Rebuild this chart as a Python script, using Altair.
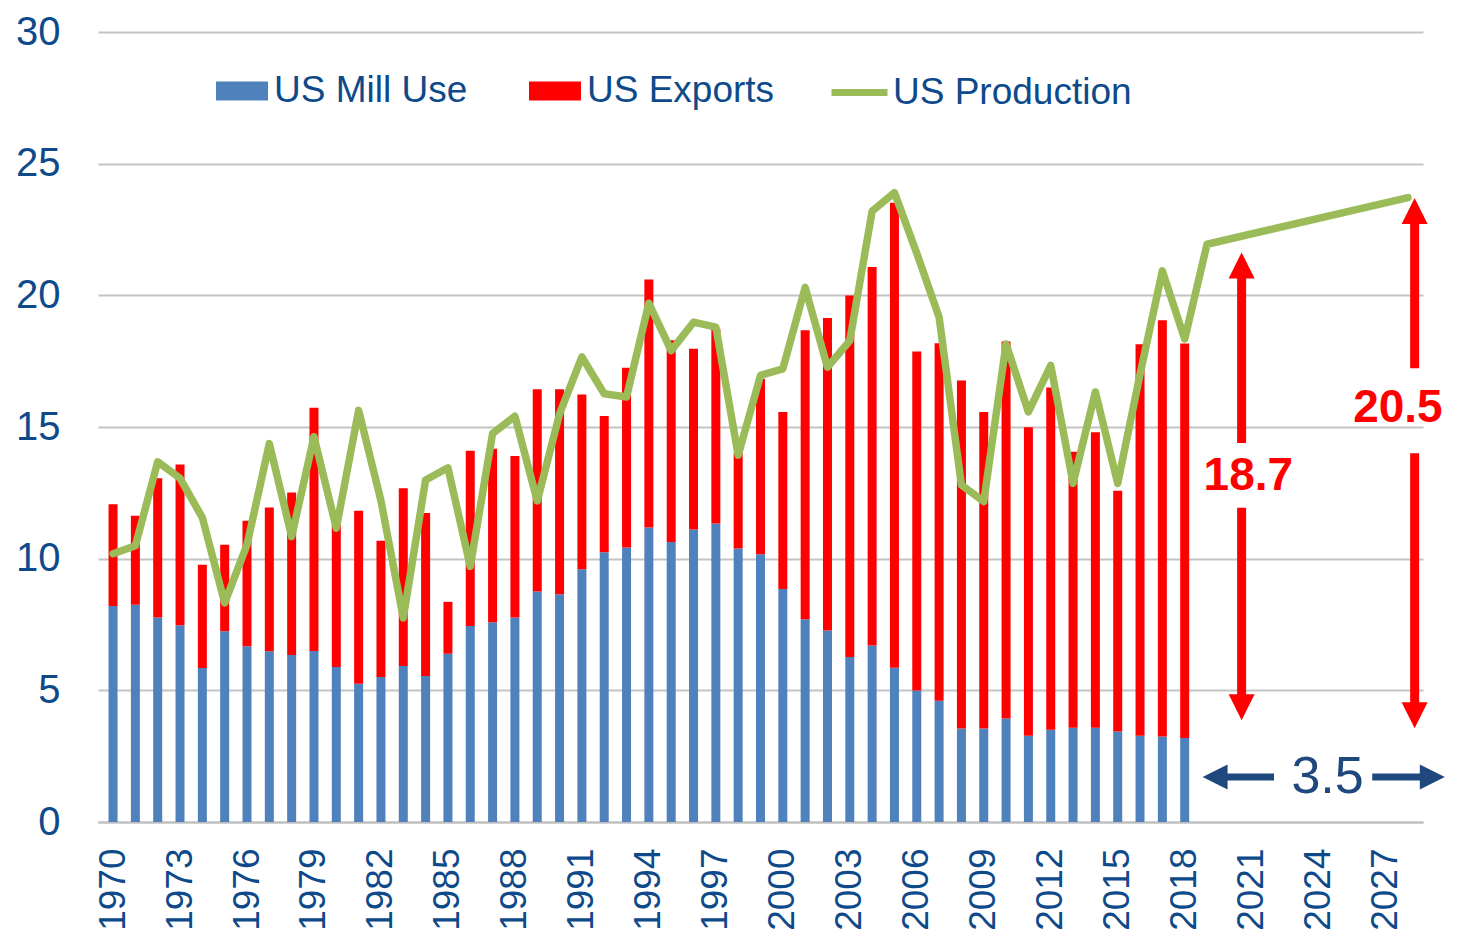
import altair as alt
import pandas as pd

years = list(range(1970, 2019))
mill_use = [8.2, 8.25, 7.77, 7.47, 5.85, 7.24, 6.67, 6.48, 6.34, 6.49,
            5.89, 5.25, 5.51, 5.92, 5.54, 6.39, 7.44, 7.59, 7.77, 8.75,
            8.65, 9.6, 10.24, 10.42, 11.18, 10.63, 11.11, 11.34, 10.39, 10.17,
            8.85, 7.7, 7.27, 6.27, 6.7, 5.86, 4.99, 4.6, 3.55, 3.55,
            3.93, 3.28, 3.5, 3.58, 3.58, 3.44, 3.28, 3.25, 3.19]
exports = [3.87, 3.38, 5.28, 6.11, 3.92, 3.29, 4.77, 5.46, 6.17, 9.24,
           5.41, 6.57, 5.17, 6.75, 6.19, 1.97, 6.66, 6.58, 6.13, 7.68,
           7.78, 6.63, 5.18, 6.83, 9.42, 7.66, 6.86, 7.38, 3.61, 6.66,
           6.72, 10.97, 11.87, 13.72, 14.38, 17.66, 12.88, 13.58, 13.22, 12.02,
           14.32, 11.71, 13.0, 10.48, 11.22, 9.14, 14.86, 15.8, 14.98]
prod_years = list(range(1970, 2020)) + [2028]
production = [10.19, 10.49, 13.68, 13.05, 11.56, 8.32, 10.53, 14.37, 10.84, 14.63,
              11.16, 15.63, 12.2, 7.75, 12.99, 13.45, 9.71, 14.75, 15.41, 12.19,
              15.5, 17.66, 16.26, 16.14, 19.7, 17.9, 18.98, 18.79, 13.93, 16.96,
              17.21, 20.3, 17.27, 18.28, 23.2, 23.9, 21.6, 19.17, 12.8, 12.17,
              18.15, 15.57, 17.34, 12.86, 16.33, 12.86, 17.0, 20.93, 18.34, 21.94,
              23.71]
x_tick_labels = list(range(1970, 2028, 3))
y_ticks = [0, 5, 10, 15, 20, 25, 30]

# annotation data (data units)
red_shaft_x = [2020.55, 2020.55, 2028.3, 2028.3]
red_shaft_y1 = [4.6, 14.39, 4.4, 17.23]
red_shaft_y2 = [11.93, 21.0, 14.0, 23.0]
up_tip_x = [2020.55, 2028.3]
up_tip_y = [21.63, 23.7]
down_tip_x = [2020.55, 2028.3]
down_tip_y = [3.86, 3.56]
red_text = ["18.7", "20.5"]
red_text_x = [2020.85, 2027.55]
red_text_y = [13.13, 15.71]
blue_shaft_x1 = [2019.4, 2026.4]
blue_shaft_x2 = [2022.0, 2029.1]
blue_y = 1.71
blue_left_tip = 2018.8
blue_right_tip = 2029.65
blue_text = "3.5"
blue_text_x = 2024.4

FONT = "Liberation Sans"
TXT = "#0E4A8A"
NAVY = "#1F497D"

bars_df = pd.DataFrame(
    [{"year": y, "series": "US Mill Use", "value": m, "ord": 0} for y, m in zip(years, mill_use)]
    + [{"year": y, "series": "US Exports", "value": e, "ord": 1} for y, e in zip(years, exports)]
)
prod_df = pd.DataFrame({"year": prod_years, "value": production, "series": "US Production"})

xscale = alt.Scale(domain=[1969.55, 2028.45], nice=False, zero=False)
yscale = alt.Scale(domain=[0, 30], nice=False)

x_axis = alt.Axis(values=x_tick_labels, format="d", labelAngle=270, labelAlign="right",
                  labelBaseline="middle", labelFontSize=37, labelColor=TXT, labelFont=FONT,
                  labelPadding=26, ticks=False, grid=False, domainColor="#BFBFBF",
                  domainWidth=2, title=None, labelOverlap=False, labelFlush=False)
y_axis = alt.Axis(values=y_ticks, labelFontSize=40, labelColor=TXT, labelFont=FONT,
                  labelPadding=38, ticks=False, domain=False, gridColor="#C4C4C4",
                  gridWidth=2, title=None)

bars = alt.Chart(bars_df).mark_bar(size=9).encode(
    x=alt.X("year:Q", scale=xscale, axis=x_axis),
    y=alt.Y("value:Q", stack="zero", scale=yscale, axis=y_axis),
    color=alt.Color("series:N",
                    scale=alt.Scale(domain=["US Mill Use", "US Exports"], range=["#4F81BD", "#FF0000"]),
                    legend=alt.Legend(orient="none", legendX=118, legendY=33, direction="horizontal",
                                      columns=2, title=None, symbolType="M-1,-0.365H1V0.365H-1Z",
                                      symbolSize=2704, symbolStrokeWidth=0, labelFontSize=37,
                                      labelColor=TXT, labelFont=FONT, labelOffset=6,
                                      columnPadding=61, padding=0, labelLimit=400)),
    order=alt.Order("ord:Q", sort="ascending"),
)

line = alt.Chart(prod_df).mark_line(strokeWidth=7.5, strokeJoin="round", strokeCap="round").encode(
    x=alt.X("year:Q", scale=xscale),
    y=alt.Y("value:Q", scale=yscale),
    stroke=alt.Stroke("series:N", scale=alt.Scale(domain=["US Production"], range=["#9BBB59"]),
                      legend=alt.Legend(orient="none", legendX=730, legendY=29, title=None,
                                        symbolType="stroke", symbolSize=3136, symbolStrokeWidth=7,
                                        labelFontSize=37, labelColor=TXT, labelFont=FONT,
                                        labelOffset=2, padding=0, labelLimit=400)),
)

shaft_df = pd.DataFrame({"x": red_shaft_x, "y1": red_shaft_y1, "y2": red_shaft_y2})
red_shafts = alt.Chart(shaft_df).mark_rule(color="#FF0000", strokeWidth=9).encode(
    x=alt.X("x:Q", scale=xscale), y=alt.Y("y1:Q", scale=yscale), y2="y2:Q")

up_df = pd.DataFrame({"x": up_tip_x, "y": up_tip_y})
up_heads = alt.Chart(up_df).mark_point(shape="M0,0L1,2L-1,2Z", filled=True, size=676,
                                       color="#FF0000", opacity=1, strokeWidth=0).encode(
    x=alt.X("x:Q", scale=xscale), y=alt.Y("y:Q", scale=yscale))
down_df = pd.DataFrame({"x": down_tip_x, "y": down_tip_y})
down_heads = alt.Chart(down_df).mark_point(shape="M0,0L1,-2L-1,-2Z", filled=True, size=676,
                                           color="#FF0000", opacity=1, strokeWidth=0).encode(
    x=alt.X("x:Q", scale=xscale), y=alt.Y("y:Q", scale=yscale))

rtext_df = pd.DataFrame({"t": red_text, "x": red_text_x, "y": red_text_y})
red_labels = alt.Chart(rtext_df).mark_text(font=FONT, fontSize=46, fontWeight="bold",
                                           color="#FF0000", align="center", baseline="middle").encode(
    x=alt.X("x:Q", scale=xscale), y=alt.Y("y:Q", scale=yscale), text="t:N")

bshaft_df = pd.DataFrame({"x1": blue_shaft_x1, "x2": blue_shaft_x2, "y": [blue_y] * 2})
blue_shafts = alt.Chart(bshaft_df).mark_rule(color=NAVY, strokeWidth=7).encode(
    x=alt.X("x1:Q", scale=xscale), x2="x2:Q", y=alt.Y("y:Q", scale=yscale))
lh_df = pd.DataFrame({"x": [blue_left_tip], "y": [blue_y]})
left_head = alt.Chart(lh_df).mark_point(shape="M0,0L2,-1L2,1Z", filled=True, size=625,
                                        color=NAVY, opacity=1, strokeWidth=0).encode(
    x=alt.X("x:Q", scale=xscale), y=alt.Y("y:Q", scale=yscale))
rh_df = pd.DataFrame({"x": [blue_right_tip], "y": [blue_y]})
right_head = alt.Chart(rh_df).mark_point(shape="M0,0L-2,-1L-2,1Z", filled=True, size=625,
                                         color=NAVY, opacity=1, strokeWidth=0).encode(
    x=alt.X("x:Q", scale=xscale), y=alt.Y("y:Q", scale=yscale))
btext_df = pd.DataFrame({"t": [blue_text], "x": [blue_text_x], "y": [blue_y]})
blue_label = alt.Chart(btext_df).mark_text(font=FONT, fontSize=52, color=NAVY,
                                           align="center", baseline="middle").encode(
    x=alt.X("x:Q", scale=xscale), y=alt.Y("y:Q", scale=yscale), text="t:N")

chart = alt.layer(
    bars, line, red_shafts, up_heads, down_heads, red_labels,
    blue_shafts, left_head, right_head, blue_label
).resolve_scale(color="independent").properties(
    width=1325, height=790,
    autosize=alt.AutoSizeParams(type="none"),
    padding={"left": 90, "top": 24, "right": 26, "bottom": 114},
    background="white",
).configure_view(stroke=None)

chart.save("out.html", embed_options={"renderer": "svg", "actions": False})
